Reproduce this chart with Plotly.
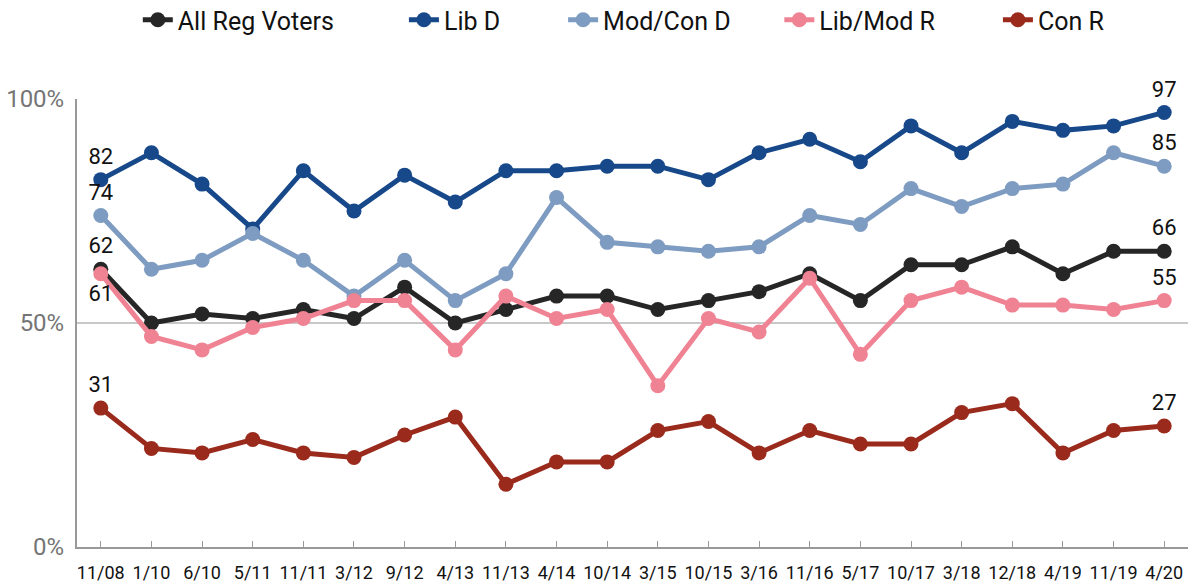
import plotly.graph_objects as go

dates = ["11/08", "1/10", "6/10", "5/11", "11/11", "3/12", "9/12", "4/13", "11/13", "4/14",
         "10/14", "3/15", "10/15", "3/16", "11/16", "5/17", "10/17", "3/18", "12/18", "4/19",
         "11/19", "4/20"]

all_reg = [62, 50, 52, 51, 53, 51, 58, 50, 53, 56, 56, 53, 55, 57, 61, 55, 63, 63, 67, 61, 66, 66]
lib_d = [82, 88, 81, 71, 84, 75, 83, 77, 84, 84, 85, 85, 82, 88, 91, 86, 94, 88, 95, 93, 94, 97]
modcon_d = [74, 62, 64, 70, 64, 56, 64, 55, 61, 78, 68, 67, 66, 67, 74, 72, 80, 76, 80, 81, 88, 85]
libmod_r = [61, 47, 44, 49, 51, 55, 55, 44, 56, 51, 53, 36, 51, 48, 60, 43, 55, 58, 54, 54, 53, 55]
con_r = [31, 22, 21, 24, 21, 20, 25, 29, 14, 19, 19, 26, 28, 21, 26, 23, 23, 30, 32, 21, 26, 27]

series = [
    ("All Reg Voters", all_reg, "#262626", "top center"),
    ("Lib D", lib_d, "#17488A", "top center"),
    ("Mod/Con D", modcon_d, "#7E9CC1", "top center"),
    ("Lib/Mod R", libmod_r, "#F08393", "bottom center"),
    ("Con R", con_r, "#9A2A1C", "top center"),
]

# where each legend entry sits (fraction of the page width)
legend_x = [0.116, 0.340, 0.474, 0.656, 0.840]

x = list(range(len(dates)))
fig = go.Figure()

for i, (name, vals, color, first_pos) in enumerate(series):
    labels = [""] * len(vals)
    labels[0] = str(vals[0])
    labels[-1] = str(vals[-1])
    positions = ["top center"] * len(vals)
    positions[0] = first_pos
    leg = "legend" if i == 0 else f"legend{i + 1}"
    fig.add_trace(go.Scatter(
        x=x, y=vals, name=name, mode="lines+markers+text",
        line=dict(color=color, width=5),
        marker=dict(color=color, size=15),
        text=labels, textposition=positions,
        textfont=dict(size=22, color="#111111"),
        cliponaxis=False, legend=leg,
    ))
    fig.update_layout({leg: dict(
        x=legend_x[i], xref="container", xanchor="left",
        y=1 - 20 / 586, yref="container", yanchor="middle",
        font=dict(size=25, color="#111111"), bgcolor="rgba(0,0,0,0)",
    )})

fig.update_layout(
    width=1188, height=586,
    plot_bgcolor="white", paper_bgcolor="white",
    font=dict(family="Roboto", size=18, color="#111111"),
    margin=dict(l=77, r=0, t=99, b=39, autoexpand=False),
    showlegend=True,
    xaxis=dict(
        range=[-0.47, 21.47], tickvals=x, ticktext=dates,
        showgrid=False, showline=True, linecolor="#999999", linewidth=2,
        ticks="inside", ticklen=6, tickcolor="#999999", tickwidth=1,
        tickfont=dict(size=18, color="#111111"), zeroline=False,
        ticklabelstandoff=8,
    ),
    yaxis=dict(
        range=[0, 100], tickvals=[0, 50, 100], ticktext=["0%", "50%", "100%"],
        showgrid=True, gridcolor="#C8C8C8", gridwidth=1.5,
        showline=True, linecolor="#999999", linewidth=2,
        tickfont=dict(size=24, color="#757575"), zeroline=False, ticks="",
        ticklabelstandoff=6,
    ),
)

fig.write_html("out.html", config={"displayModeBar": False},
               post_script="document.body.style.margin='0px';")
